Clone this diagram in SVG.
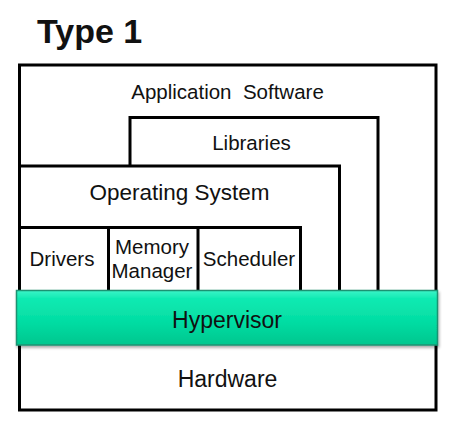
<svg xmlns="http://www.w3.org/2000/svg" width="459" height="425" viewBox="0 0 459 425">
<style>
.box{fill:none;stroke:#000;stroke-width:3}
.t{font-family:"Liberation Sans",Arial,sans-serif;fill:#111;text-anchor:middle}
</style>
<defs>
<linearGradient id="hg" x1="0" y1="0" x2="0" y2="1">
<stop offset="0" stop-color="#3af4c8"/>
<stop offset="0.15" stop-color="#10eab2"/>
<stop offset="0.6" stop-color="#02dca2"/>
<stop offset="1" stop-color="#00c68e"/>
</linearGradient>
<filter id="sh" x="-5%" y="-20%" width="110%" height="150%">
<feGaussianBlur in="SourceAlpha" stdDeviation="1.5"/>
<feOffset dx="1" dy="2"/>
<feComponentTransfer><feFuncA type="linear" slope="0.35"/></feComponentTransfer>
<feMerge><feMergeNode/><feMergeNode in="SourceGraphic"/></feMerge>
</filter>
</defs>
<rect width="459" height="425" fill="#fff"/>
<text x="37" y="43" font-family="Liberation Sans,Arial,sans-serif" font-weight="bold" font-size="34" fill="#111">Type 1</text>
<g id="app">
<rect class="box" x="19.5" y="65" width="416.5" height="345"/>
<text class="t" x="227.5" y="99" font-size="20.5" xml:space="preserve">Application  Software</text>
</g>
<g id="libraries">
<path class="box" d="M130 166 V117.5 H378 V291"/>
<text class="t" x="251.5" y="150" font-size="20.5">Libraries</text>
</g>
<g id="os">
<path class="box" d="M19.5 166 H339.5 V291"/>
<text class="t" x="179.5" y="200" font-size="22.5">Operating System</text>
</g>
<g id="drivers">
<path class="box" d="M19.5 227.5 H300.5 V291 M108.5 227.5 V291 M198 227.5 V291"/>
<text class="t" x="62" y="266" font-size="20.5">Drivers</text>
</g>
<g id="memory">
<text class="t" x="152" y="254" font-size="20.5">Memory</text>
<text class="t" x="152" y="278" font-size="20.5">Manager</text>
</g>
<g id="scheduler">
<text class="t" x="249" y="266" font-size="20.5">Scheduler</text>
</g>
<g id="hypervisor">
<rect x="16.5" y="290.5" width="421" height="54.5" fill="url(#hg)" stroke="#1a9272" stroke-width="1.5" filter="url(#sh)"/>
<text class="t" x="227" y="328" font-size="23">Hypervisor</text>
</g>
<g id="hardware">
<text class="t" x="227.5" y="387" font-size="23">Hardware</text>
</g>
<g id="connectors"/>
</svg>
